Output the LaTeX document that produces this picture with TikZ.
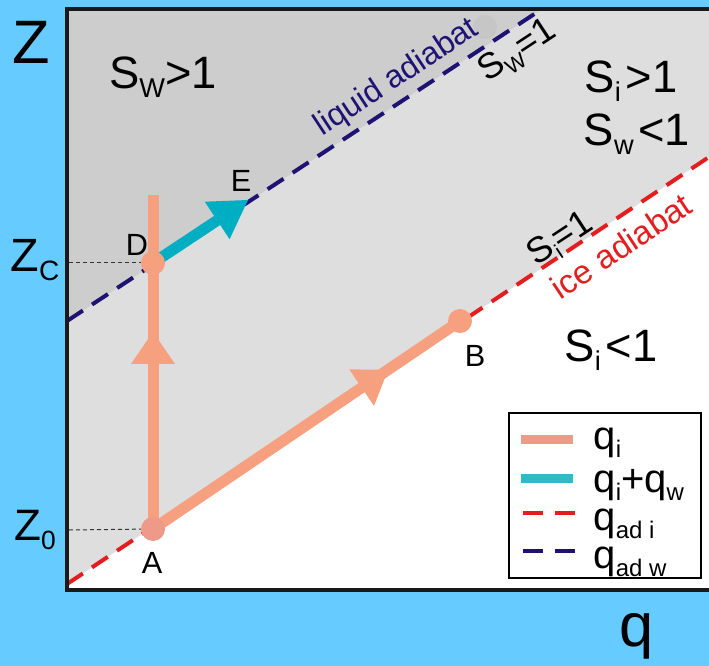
\documentclass[tikz,border=0pt]{standalone}
\usepackage{graphicx}
\usepackage{fontspec}
\setmainfont{Liberation Sans}
\usetikzlibrary{arrows.meta,decorations.markings}

\definecolor{skyback}{HTML}{66CCFF}
\definecolor{darkzone}{HTML}{CDCDCD}
\definecolor{lightzone}{HTML}{DEDEDE}
\definecolor{ghostdot}{HTML}{C6C6C6}
\definecolor{salmon}{HTML}{F7A07F}
\definecolor{dotpink}{HTML}{EF9A88}
\definecolor{tealarrow}{HTML}{00AEC4}
\definecolor{tealkey}{HTML}{30B9C9}
\definecolor{iceRed}{HTML}{E41E1E}
\definecolor{liqNavy}{HTML}{201272}

\newcommand{\lo}[1]{\raisebox{-0.2em}{\scalebox{0.6}{#1}}}

\tikzset{every picture/.style={line width=0.75pt}}
\tikzset{
  adiabat/.style={line width=3pt, dash pattern=on 14.25pt off 8.25pt},
  guide/.style={draw=black!80, line width=0.75pt, dash pattern=on 3pt off 2.25pt},
  pathi/.style={draw=salmon, line width=8.25pt},
  midarrow/.style={postaction={decorate}, decoration={markings,
      mark=at position #1 with {\arrow{Triangle[length=24pt,width=33pt,line width=0pt]}}}},
  dot/.style={circle, fill=salmon, inner sep=0pt, minimum size=18pt},
  ptlabel/.style={font=\fontsize{23}{23}\selectfont},
  zonelabel/.style={font=\fontsize{34}{34}\selectfont},
  slopelabel/.style={rotate=33.4, font=\fontsize{27}{27}\selectfont},
  keytext/.style={anchor=base west, inner sep=0pt, font=\fontsize{30}{30}\selectfont},
}

\begin{document}
\begin{tikzpicture}[x=0.75pt,y=0.75pt,yscale=-1,xscale=1]
\useasboundingbox (0,0) rectangle (709,666);
\fill[skyback] (0,0) rectangle (709,666);

%Shape: zones of the plot
\fill[white] (67,9) rectangle (709,590);
\fill[lightzone] (67,9) -- (67,584) -- (709,157) -- (709,9) -- cycle;
\fill[darkzone] (67,9) -- (67,321) -- (542,9) -- cycle;
\fill[ghostdot] (485,27) circle[radius=9pt];

%Shape: adiabats
\draw[adiabat, liqNavy] (67,321) -- (542,9);
\draw[adiabat, iceRed] (67,584) -- (709,157);

% Points
\coordinate (A) at (153,529);
\coordinate (B) at (460,321);
\coordinate (D) at (153,263);
\coordinate (top) at (153,195);
\coordinate (E) at (248,200);

% Guides to the axis
\draw[guide] (69,263) -- (D);
\draw[guide] (69,530) -- (A);

% Text Node
\node (zaxis) at (31,42) {\fontsize{46}{46}\selectfont Z};
% Text Node
\node (qaxis) at (637,636) {\fontsize{46}{46}\selectfont q};
% Text Node
\node (zc) at (35,260) {\fontsize{35}{35}\selectfont Z\lo{C}};
% Text Node
\node (zo) at (35,530) {\fontsize{33}{33}\selectfont Z\lo{0}};
% Text Node
\node[zonelabel] (swgt) at (163,77) {S\lo{W}>1};
% Text Node
\node[zonelabel] (sigt) at (631,81) {S\lo{i}\hspace{0.1em}>1};
% Text Node
\node[zonelabel] (swlt) at (637,134) {S\lo{w}\hspace{0.1em}<1};
% Text Node
\node[zonelabel] (silt) at (611,350) {S\lo{i}\hspace{0.1em}<1};
% Text Node
\node[rotate=33.3, text=liqNavy, font=\fontsize{24}{24}\selectfont] (liqtxt) at (397,78) {liquid adiabat};
% Text Node
\node[slopelabel] (swone) at (518,52) {S\lo{W}=1};
% Text Node
\node[slopelabel] (sione) at (561,240) {S\lo{i}=1};
% Text Node
\node[rotate=33.6, text=iceRed, font=\fontsize{25}{25}\selectfont] (icetxt) at (621,246) {ice adiabat};

% Paths
\draw[pathi, midarrow=0.59] (A) -- (top);
\draw[pathi, midarrow=0.766] (A) -- (B);
\draw[tealarrow, line width=8.25pt, -{Triangle[length=27.75pt,width=33.75pt,line width=0pt]}] (D) -- (E);

\node[dot, fill=dotpink] (dotA) at (A) {};
\node[dot] (dotB) at (B) {};
\node[dot] (dotD) at (D) {};

% Text Node
\node[ptlabel] (la) at (152,563) {A};
% Text Node
\node[ptlabel] (lb) at (475,356) {B};
% Text Node
\node[ptlabel] (ld) at (137,245) {D};
% Text Node
\node[ptlabel] (le) at (241,181) {E};

%Shape: legend
\draw[line width=1.5pt, fill=white] (509,413) rectangle (701,578);
\draw[draw=dotpink, line width=6.75pt] (521,439) -- (573,439);
\draw[draw=tealkey, line width=6.75pt] (521,478) -- (573,478);
\draw[iceRed, line width=3pt, dash pattern=on 15pt off 9pt] (523,513) -- (575,513);
\draw[liqNavy, line width=3pt, dash pattern=on 15pt off 9pt] (523,551) -- (575,551);
\node[keytext] (k1) at (593,449) {q\lo{i}};
\node[keytext] (k2) at (593,492) {q\lo{i}+q\lo{w}};
\node[keytext] (k3) at (593,530) {q\lo{ad i}};
\node[keytext] (k4) at (593,568) {q\lo{ad w}};

%Shape: frame
\draw[line width=3pt, draw=black!90] (712,9) -- (67,9) -- (67,590) -- (712,590);

\end{tikzpicture}
\end{document}
